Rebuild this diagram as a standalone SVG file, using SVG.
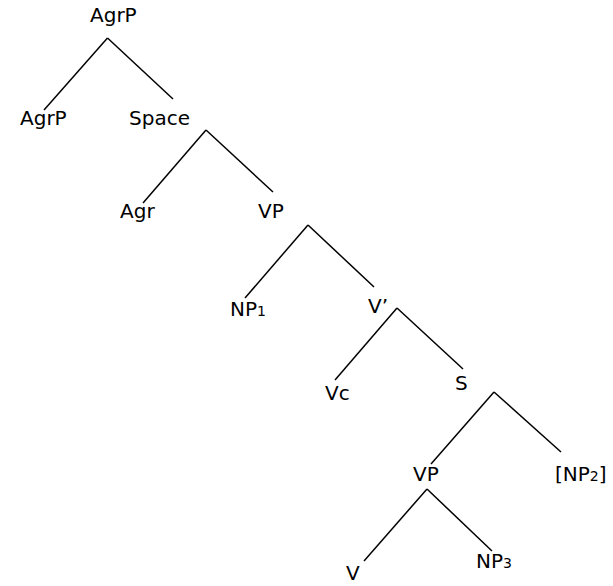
<svg xmlns="http://www.w3.org/2000/svg" width="613" height="586" viewBox="0 0 613 586">
<style>
.lbl{font-family:"DejaVu Sans","Liberation Sans",sans-serif;font-size:20px;fill:#000}
.sub{font-size:14px}
.edge{stroke:#000;stroke-width:1.5;fill:none}
</style>
<rect width="613" height="586" fill="#fff"/>
<g id="connectors">
<line class="edge" x1="107.5" y1="38" x2="44" y2="110"/>
<line class="edge" x1="107.5" y1="38" x2="173" y2="99"/>
<line class="edge" x1="206" y1="130" x2="143" y2="203"/>
<line class="edge" x1="206" y1="130" x2="273" y2="192"/>
<line class="edge" x1="308" y1="225" x2="245" y2="298"/>
<line class="edge" x1="308" y1="225" x2="374" y2="287"/>
<line class="edge" x1="397" y1="308" x2="335" y2="380"/>
<line class="edge" x1="397" y1="308" x2="463" y2="369"/>
<line class="edge" x1="494" y1="392" x2="431" y2="464"/>
<line class="edge" x1="494" y1="392" x2="561" y2="452"/>
<line class="edge" x1="427" y1="489" x2="364" y2="561"/>
<line class="edge" x1="427" y1="489" x2="492" y2="551"/>
</g>
<g id="n-agrp-top"><text class="lbl" x="90" y="22">AgrP</text></g>
<g id="n-agrp-left"><text class="lbl" x="20" y="125">AgrP</text></g>
<g id="n-space"><text class="lbl" x="129" y="125">Space</text></g>
<g id="n-agr"><text class="lbl" x="120" y="218">Agr</text></g>
<g id="n-vp1"><text class="lbl" x="258" y="218">VP</text></g>
<g id="n-np1"><text class="lbl" x="230" y="316">NP<tspan class="sub">1</tspan></text></g>
<g id="n-vbar"><text class="lbl" x="368" y="313">V’</text></g>
<g id="n-vc"><text class="lbl" x="325" y="400">Vc</text></g>
<g id="n-s"><text class="lbl" x="455" y="390">S</text></g>
<g id="n-vp2"><text class="lbl" x="413" y="481">VP</text></g>
<g id="n-np2"><text class="lbl" x="555" y="481">[NP<tspan class="sub">2</tspan>]</text></g>
<g id="n-v"><text class="lbl" x="346" y="580">V</text></g>
<g id="n-np3"><text class="lbl" x="476" y="568">NP<tspan class="sub">3</tspan></text></g>
</svg>
